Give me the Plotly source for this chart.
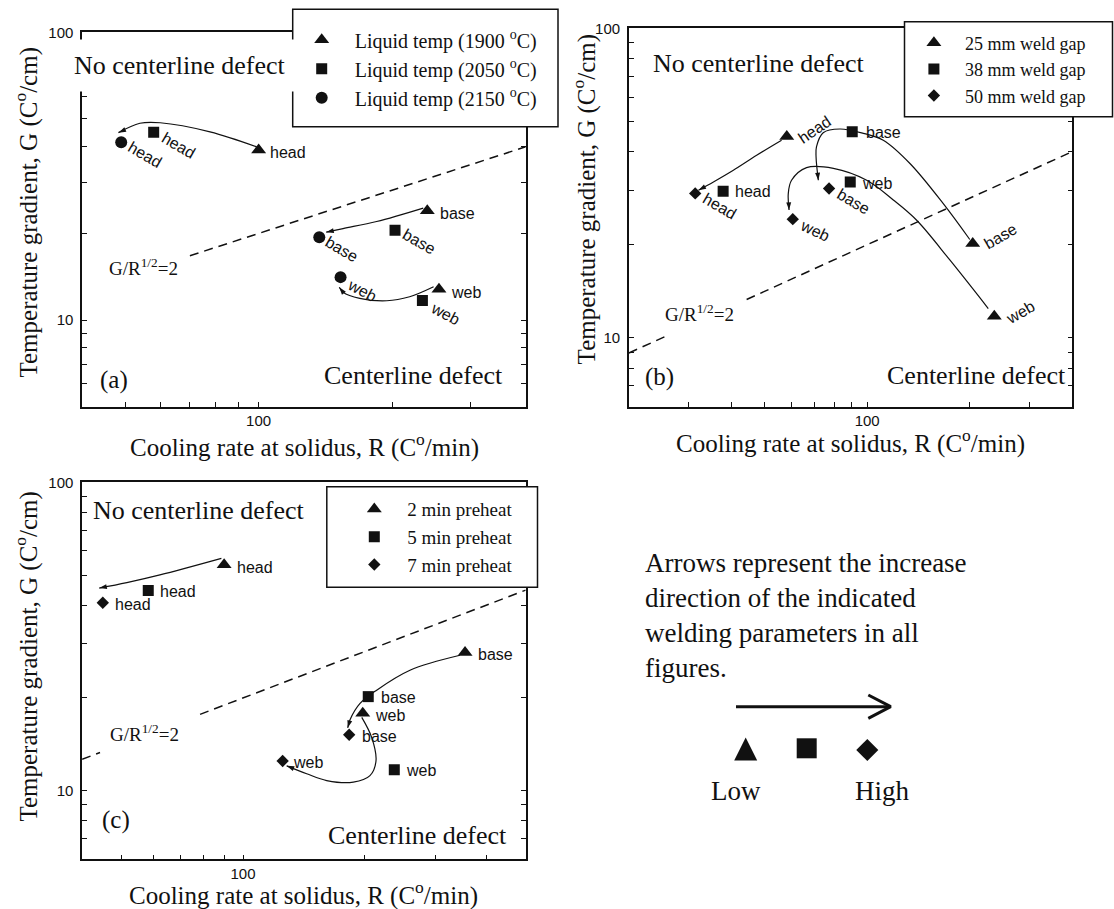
import math
import plotly.graph_objects as go

W, H = 1114, 909
SERIF = "Liberation Serif, Times New Roman, serif"
SANS = "Liberation Sans, Arial, sans-serif"
INK = "#111111"

# ------------------------------------------------------------------ data
point_labels = ["head", "base", "web"]

# (a) liquid temperature
a_series = ["Liquid temp (1900 <sup>o</sup>C)", "Liquid temp (2050 <sup>o</sup>C)",
            "Liquid temp (2150 <sup>o</sup>C)"]
a_R = [[100, 240, 255], [58, 203, 234], [49, 137, 153]]
a_G = [[39.0, 24.0, 12.8], [44.9, 20.5, 11.7], [41.5, 19.4, 14.1]]

# (b) weld gap
b_series = ["25 mm weld gap", "38 mm weld gap", "50 mm weld gap"]
b_R = [[58.1, 204, 236], [37.8, 90.4, 89.2], [31.3, 77.3, 60.5]]
b_G = [[44.7, 20.2, 11.75], [29.8, 46.3, 31.9], [29.3, 30.4, 24.2]]

# (c) preheat time
c_series = ["2 min preheat", "5 min preheat", "7 min preheat"]
c_R = [[89.8, 354, 197.7], [58.3, 204, 236.6], [45.0, 183, 125.3]]
c_G = [[54.0, 28.1, 17.85], [44.6, 20.2, 11.7], [40.7, 15.2, 12.5]]

# criterion line G / R^(1/2) = 2  (R extents of the drawn dashed segments)
criterion = 2.0
a_crit_R = [[70, 400]]
b_crit_R = [[20, 25.5], [44.3, 400]]
c_crit_R = [[40, 44.3], [78.3, 500]]

# trend arrows (increasing parameter), path
a_arrow_R = [[99, 77.7, 60.0, 54.0, 48.3],
             [235, 184.5, 155, 142],
             [248, 219, 194.5, 169, 155, 152]]
a_arrow_G = [[40.0, 45.1, 48.5, 48.3, 44.8],
             [24.5, 22.0, 20.8, 20.2],
             [13.05, 12.05, 11.67, 11.9, 12.5, 13.0]]

b_arrow_R = [[56.1, 47.4, 40.5, 35.4, 32.0],
             [200, 167, 133.5, 111.5, 97.4, 83.2, 74.3, 71.0, 70.8, 71.9],
             [226.6, 175, 139.7, 119.3, 99.7, 79.6, 66.4, 60.0, 58.7, 59.0]]
b_arrow_G = [[43.5, 38.9, 34.8, 31.9, 30.0],
             [20.8, 27.2, 36.6, 43.5, 45.8, 47.3, 46.0, 41.4, 38.5, 32.3],
             [12.45, 17.83, 24.0, 27.9, 32.3, 35.3, 35.5, 32.3, 29.3, 25.9]]

c_arrow_R = [[88.4, 62.3, 51.6, 44.1],
             [344, 258.7, 214, 194.7, 183.9, 181.5],
             [196.6, 208, 213.2, 206, 187.4, 161, 143.7, 128.2]]
c_arrow_G = [[56.7, 50.1, 47.3, 45.4],
             [27.5, 24.6, 21.2, 19.2, 17.0, 16.0],
             [17.3, 14.9, 12.5, 11.2, 10.67, 10.8, 11.36, 12.05]]

# axis tick labels
decade_ticks = [10, 100]

# key (panel d)
key_labels = ["Low", "High"]

# ------------------------------------------------------------------ styles
# label offsets per series/point: (dx px right, dy px down, angle deg)
a_lab = [[(29, 2.3, 0), (30, 3.3, 0), (26.7, 3.3, 0)],
         [(25, 12.7, 30), (24, 10.7, 30), (22.3, 13.3, 28)],
         [(23.3, 12.7, 30), (22.7, 12.7, 30), (21.7, 13.3, 28)]]
b_lab = [[(28.3, -6.7, -34), (27.3, -7.3, -30), (25.7, -4.3, -30)],
         [(30, 0.7, 0), (31, 1, 0), (26.7, 1.7, 0)],
         [(25, 12.7, 30), (24.3, 13.3, 30), (22.3, 11, 25)]]
c_lab = [[(31, 2.3, 0), (30, 2.3, 0), (27.3, 2.3, 0)],
         [(30, 1, 0), (30, 0.7, 0), (26.7, 1, 0)],
         [(30.7, 1.3, 0), (30, 1.7, 0), (25.7, 1.3, 0)]]

SYM_A = [("triangle-up", 13), ("square", 11), ("circle", 12)]
SYM_BC = [("triangle-up", 13), ("square", 11), ("diamond", 9.5)]


def px(x):
    return x / W


def py(y):
    return 1 - y / H


fig = go.Figure()
annotations = []
shapes = []


def add_panel(xr, yr, legend, series, R, G, symbols, labs, crit_R, arr_R, arr_G, lgroup):
    # criterion dashed line
    for seg in crit_R:
        fig.add_trace(go.Scatter(
            x=seg, y=[criterion * math.sqrt(r) for r in seg], xaxis=xr, yaxis=yr,
            mode="lines", line=dict(color=INK, width=1.5, dash="9px,6px"),
            showlegend=False, hoverinfo="skip"))
    # trend arrows
    for ar, ag in zip(arr_R, arr_G):
        fig.add_trace(go.Scatter(
            x=ar, y=ag, xaxis=xr, yaxis=yr, mode="lines+markers",
            line=dict(color=INK, width=1.2, shape="spline", smoothing=1.0),
            marker=dict(symbol="arrow", size=[0] * (len(ar) - 1) + [8], opacity=1,
                        angleref="previous", color=INK, line=dict(width=0)),
            showlegend=False, hoverinfo="skip"))
    # data series
    for i, (name, rr, gg) in enumerate(zip(series, R, G)):
        sym, size = symbols[i]
        fig.add_trace(go.Scatter(
            x=rr, y=gg, xaxis=xr, yaxis=yr, mode="markers", name=name,
            legend=legend, legendgroup=f"{lgroup}{i}",
            marker=dict(symbol=sym, size=size, color=INK, opacity=1, line=dict(width=0)),
            text=point_labels, hovertemplate="%{text}: R=%{x}, G=%{y}<extra></extra>"))
        for j, lab in enumerate(point_labels):
            dx, dy, ang = labs[i][j]
            annotations.append(dict(
                x=math.log10(rr[j]), y=math.log10(gg[j]), xref=xr, yref=yr,
                text=lab, showarrow=False, xshift=dx, yshift=-dy, textangle=ang,
                xanchor="center", yanchor="middle",
                font=dict(family=SANS, size=16, color=INK)))


add_panel("x", "y", "legend", a_series, a_R, a_G, SYM_A, a_lab, a_crit_R, a_arrow_R, a_arrow_G, "a")
add_panel("x2", "y2", "legend2", b_series, b_R, b_G, SYM_BC, b_lab, b_crit_R, b_arrow_R, b_arrow_G, "b")
add_panel("x3", "y3", "legend3", c_series, c_R, c_G, SYM_BC, c_lab, c_crit_R, c_arrow_R, c_arrow_G, "c")


def tick_positions(lo, hi):
    vals, texts = [], []
    for k in range(0, 4):
        for m in range(1, 10):
            v = m * 10 ** k
            if lo <= v <= hi:
                vals.append(v)
                texts.append(str(v) if v in decade_ticks else "")
    return vals, texts


def log_axis(lo, hi, d0, d1, anchor, is_y, vertical):
    if vertical:
        dom = [py(d1), py(d0)]
    else:
        dom = [px(d0), px(d1)]
    tv, tt = tick_positions(lo, hi)
    return dict(
        type="log", range=[math.log10(lo), math.log10(hi)], domain=dom, anchor=anchor,
        automargin=False,
        showline=True, linewidth=1.5, linecolor=INK, mirror="ticks" if is_y else True,
        showgrid=False, zeroline=False, ticks="inside", ticklen=5, tickwidth=1.4,
        tickcolor=INK, tickmode="array", tickvals=tv, ticktext=tt,
        tickfont=dict(family=SANS, size=15, color=INK),
        ticklabelstandoff=4 if is_y else 0, fixedrange=True)


layout = dict(
    template="none",
    width=W, height=H, margin=dict(l=0, r=0, t=0, b=0, pad=0), autosize=False,
    paper_bgcolor="white", plot_bgcolor="white", showlegend=True,
    xaxis=log_axis(40, 400, 82.1, 525.7, "y", False, False),
    yaxis=log_axis(5, 100, 32.3, 406.7, "x", True, True),
    xaxis2=log_axis(20, 400, 628.9, 1072.4, "y2", False, False),
    yaxis2=log_axis(6, 100, 28.3, 406.7, "x2", True, True),
    xaxis3=log_axis(40, 500, 82.1, 525.7, "y3", False, False),
    yaxis3=log_axis(6, 100, 482.3, 859.3, "x3", True, True),
)

# key panel axis in pixel units
layout["xaxis4"] = dict(domain=[0.55, 1.0], range=[0.55 * W, W], visible=False,
                        anchor="y4", fixedrange=True, automargin=False)
layout["yaxis4"] = dict(domain=[0.0, 0.45], range=[H, H * 0.55], visible=False,
                        anchor="x4", fixedrange=True, automargin=False)


def legend_cfg(x, top, size, itemwidth, gap):
    return dict(x=px(x), y=py(top), xanchor="left", yanchor="top",
                bgcolor="rgba(0,0,0,0)", borderwidth=0, itemwidth=itemwidth,
                font=dict(family=SERIF, size=size, color=INK),
                traceorder="grouped", tracegroupgap=gap, itemclick=False,
                itemdoubleclick=False)


layout["legend"] = legend_cfg(288.7, 20.2, 20, 56, 0)
layout["legend2"] = legend_cfg(902.9, 24.5, 18, 52, 0)
layout["legend3"] = legend_cfg(341.3, 490.2, 19, 56, 0)

# legend boxes (cover the frame like the original)
for x0, x1, y0, y1 in [(292.7, 558, 9.3, 126.7), (904.5, 1112.5, 21.7, 116.7),
                       (326.8, 537.5, 486.7, 587.3)]:
    shapes.append(dict(type="rect", xref="paper", yref="paper", x0=px(x0), x1=px(x1),
                       y0=py(y1), y1=py(y0), fillcolor="white",
                       line=dict(color=INK, width=1.5), layer="above"))


def txt(x, y, s, size, family=SERIF, angle=0, bg=None, pad=0, xanchor="center"):
    d = dict(x=px(x), y=py(y), xref="paper", yref="paper", text=s, showarrow=False,
             xanchor=xanchor, yanchor="middle", textangle=angle,
             font=dict(family=family, size=size, color=INK))
    if bg:
        d.update(bgcolor=bg, borderpad=pad)
    annotations.append(d)


# axis titles
ytitle = "Temperature gradient, G (C<sup>o</sup>/cm)"
xtitle = "Cooling rate at solidus, R (C<sup>o</sup>/min)"
txt(26.8, 211.7, ytitle, 25, angle=-90)
txt(304.5, 445, xtitle, 25)
txt(585.4, 199, ytitle, 25, angle=-90)
txt(850.6, 442, xtitle, 25)
txt(26.8, 655.8, ytitle, 25, angle=-90)
txt(303.6, 893, xtitle, 25)

# region texts
txt(180.4, 65, "No centerline defect", 26, bg="white", pad=11)
txt(413, 375, "Centerline defect", 26)
txt(758.8, 63.3, "No centerline defect", 26)
txt(976, 375, "Centerline defect", 26)
txt(198.6, 510, "No centerline defect", 26)
txt(417.9, 835, "Centerline defect", 26)

# panel letters
txt(114, 380, "(a)", 25)
txt(659, 376.7, "(b)", 25)
txt(116, 820, "(c)", 25)

# criterion labels
crit_txt = "G/R<sup>1/2</sup>=2"
txt(143, 266.7, crit_txt, 19)
txt(699.5, 313.3, crit_txt, 19)
txt(144.5, 733.3, crit_txt, 19)

# ---- panel (d): explanation and key
txt(643.3, 615, "Arrows represent the increase<br>direction of the indicated<br>"
    "welding parameters in all<br>figures.", 27, xanchor="left")
annotations[-1]["align"] = "left"

fig.add_trace(go.Scatter(x=[736, 888], y=[706.7, 706.7], xaxis="x4", yaxis="y4",
                         mode="lines", line=dict(color=INK, width=3),
                         showlegend=False, hoverinfo="skip"))
fig.add_trace(go.Scatter(x=[868.3, 890.7, 868.3], y=[695, 706.7, 718.4], xaxis="x4", yaxis="y4",
                         mode="lines", line=dict(color=INK, width=3),
                         showlegend=False, hoverinfo="skip"))
# key symbols (triangle drawn apex-anchored so it is taller, as in the original)
fig.add_trace(go.Scatter(x=[745.7], y=[737.5], xaxis="x4", yaxis="y4", mode="markers",
                         marker=dict(symbol="arrow-up", size=23, color=INK, opacity=1,
                                     line=dict(width=0)),
                         showlegend=False, hoverinfo="skip"))
fig.add_trace(go.Scatter(x=[806.7, 867.3], y=[748.3, 750], xaxis="x4", yaxis="y4",
                         mode="markers",
                         marker=dict(symbol=["square", "diamond"],
                                     size=[20, 17], color=INK, opacity=1,
                                     line=dict(width=0)),
                         showlegend=False, hoverinfo="skip"))
txt(735.8, 790.7, key_labels[0], 27)
txt(882, 790.7, key_labels[1], 27)

layout["annotations"] = annotations
layout["shapes"] = shapes
fig.update_layout(**layout)
fig.write_html("out.html")
